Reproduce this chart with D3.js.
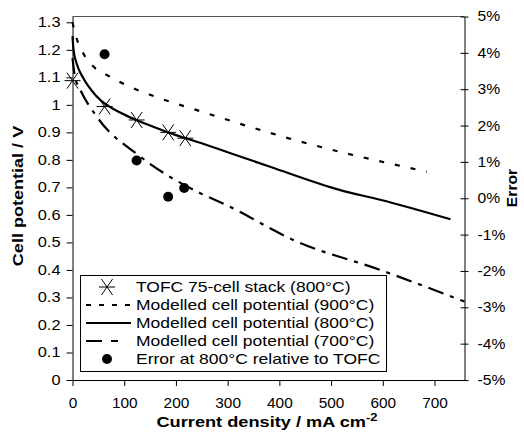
<!DOCTYPE html>
<html>
<head>
<meta charset="utf-8">
<style>
  body { margin: 0; background: #fff; font-family: Arial, 'Liberation Sans', sans-serif; }
  .axis text { font-size: 14px; font-family: Arial, 'Liberation Sans', sans-serif; fill: #000; }
  .axis path, .axis line { stroke: #000; }
</style>
</head>
<body>
<svg width="524" height="434"></svg>
<script src="https://d3js.org/d3.v7.min.js"></script>
<script>
// measured stack (800C)
var tofcCurrent = [0, 62, 124, 185, 218];
var tofcVoltage = [1.088, 0.994, 0.945, 0.900, 0.879];

// model curves: [current, voltage]
var model900 = [[0,1.30],[5,1.26],[20,1.19],[40,1.14],[70,1.105],[100,1.075],[160,1.03],[250,0.975],[434,0.87],[685,0.757]];
var model800 = [[0,1.25],[2,1.20],[8,1.15],[20,1.10],[47,1.03],[100,0.965],[150,0.925],[200,0.89],[247,0.862],[300,0.828],[382,0.775],[518,0.69],[595,0.655],[731,0.584]];
var model700 = [[0,1.17],[5,1.10],[15,1.055],[47,0.957],[131,0.812],[247,0.679],[295,0.638],[434,0.503],[595,0.40],[758,0.285]];

// error at 800C relative to TOFC (%)
var errCurrent = [62, 124, 185, 216];
var errValue = [3.96, 1.04, 0.04, 0.28];

var xTicks = [0, 100, 200, 300, 400, 500, 600, 700];
var yTicks = [0, 0.1, 0.2, 0.3, 0.4, 0.5, 0.6, 0.7, 0.8, 0.9, 1, 1.1, 1.2, 1.3];
var errTicks = [-5, -4, -3, -2, -1, 0, 1, 2, 3, 4, 5];

var legendLabels = ["TOFC 75-cell stack (800\u00B0C)", "Modelled cell potential (900\u00B0C)",
  "Modelled cell potential (800\u00B0C)", "Modelled cell potential (700\u00B0C)",
  "Error at 800\u00B0C relative to TOFC"];

var svg = d3.select("svg");
var pLeft = 72.5, pRight = 464.5, pTop = 16.5, pBottom = 380;

var x = d3.scaleLinear().domain([0, 758]).range([pLeft, pRight]);
var y = d3.scaleLinear().domain([0, 1.3211]).range([pBottom, pTop]);
var y2 = d3.scaleLinear().domain([-5, 5]).range([pBottom, pTop]);

// the original text is drawn wide; stretch glyphs along the text direction
function stretch(sel, k) {
  sel.each(function() {
    var t = d3.select(this);
    var tx = +t.attr("x") || 0;
    var tr = t.attr("transform") || "";
    t.attr("x", tx / k).attr("transform", tr + " scale(" + k + ",1)");
  });
}

// top border
svg.append("line")
  .attr("x1", pLeft).attr("x2", pRight).attr("y1", pTop).attr("y2", pTop)
  .attr("stroke", "#555").attr("stroke-width", 1);

var line = d3.line()
  .x(function(d) { return x(d[0]); })
  .y(function(d) { return y(d[1]); })
  .curve(d3.curveMonotoneX);

var styles = [
  {data: model900, dash: "5,11"},
  {data: model800, dash: null},
  {data: model700, dash: "16,7,4,7"}
];

styles.forEach(function(s) {
  svg.append("path")
    .attr("d", line(s.data))
    .attr("fill", "none")
    .attr("stroke", "#000")
    .attr("stroke-width", 2.2)
    .attr("stroke-dasharray", s.dash);
});

// excel style asterisk: an X with a horizontal bar
function asterisk(g, cx, cy) {
  var r = 8;
  g.append("path")
    .attr("d", "M" + (cx - r * 0.7) + "," + (cy - r) + "L" + (cx + r * 0.7) + "," + (cy + r) +
      "M" + (cx - r * 0.7) + "," + (cy + r) + "L" + (cx + r * 0.7) + "," + (cy - r) +
      "M" + (cx - r) + "," + cy + "H" + (cx + r))
    .attr("stroke", "#000").attr("stroke-width", 1).attr("fill", "none");
}

var marks = svg.append("g");
tofcCurrent.forEach(function(c, i) {
  asterisk(marks, x(c), y(tofcVoltage[i]));
});

svg.append("g").selectAll("circle")
  .data(errCurrent)
  .enter().append("circle")
    .attr("cx", function(d) { return x(d); })
    .attr("cy", function(d, i) { return y2(errValue[i]); })
    .attr("r", 5)
    .attr("fill", "#000");

// axes
var axX = svg.append("g").attr("class", "axis")
  .attr("transform", "translate(0," + pBottom + ")")
  .call(d3.axisBottom(x).tickValues(xTicks).tickSize(6).tickSizeOuter(0).tickPadding(12));

var axY = svg.append("g").attr("class", "axis")
  .attr("transform", "translate(" + pLeft + ",0)")
  .call(d3.axisLeft(y).tickValues(yTicks).tickSize(6).tickSizeOuter(0).tickPadding(6)
    .tickFormat(function(d) { return String(+d.toFixed(1)); }));

var ax2 = svg.append("g").attr("class", "axis")
  .attr("transform", "translate(" + pRight + ",0)")
  .call(d3.axisRight(y2).tickValues(errTicks).tickSize(4).tickSizeOuter(0).tickPadding(9)
    .tickFormat(function(d) { return d + "%"; }));
ax2.selectAll(".tick line").attr("x1", -4);

stretch(axX.selectAll(".tick text"), 1.1);
stretch(axY.selectAll(".tick text"), 1.17);
stretch(ax2.selectAll(".tick text"), 1.12);

// axis titles
var xt = svg.append("text")
  .attr("x", 267).attr("y", 427)
  .attr("text-anchor", "middle")
  .attr("font-size", 14).attr("font-weight", "bold")
  .text("Current density / mA cm");
xt.append("tspan").attr("dy", -6).attr("font-size", 10).text("-2");
stretch(xt, 1.3);

var yt = svg.append("text")
  .attr("transform", "translate(23,196) rotate(-90)")
  .attr("text-anchor", "middle")
  .attr("font-size", 14).attr("font-weight", "bold")
  .text("Cell potential / V");
stretch(yt, 1.29);

var et = svg.append("text")
  .attr("transform", "translate(517,188) rotate(-90)")
  .attr("text-anchor", "middle")
  .attr("font-size", 14).attr("font-weight", "bold")
  .text("Error");
stretch(et, 1.12);

// legend
var lg = svg.append("g");
lg.append("rect")
  .attr("x", 80.5).attr("y", 275.5).attr("width", 306).attr("height", 96)
  .attr("fill", "#fff").attr("stroke", "#000").attr("stroke-width", 1);

var rowY = [287, 305, 323, 341, 359];
asterisk(lg, 107, rowY[0]);
["5,8", null, "16,9,7,30"].forEach(function(dash, i) {
  lg.append("line")
    .attr("x1", 86).attr("x2", 131).attr("y1", rowY[i + 1]).attr("y2", rowY[i + 1])
    .attr("stroke", "#000").attr("stroke-width", 2.2)
    .attr("stroke-dasharray", dash);
});
lg.append("circle").attr("cx", 107).attr("cy", rowY[4]).attr("r", 5).attr("fill", "#000");

var lt = lg.selectAll("text.lbl")
  .data(legendLabels)
  .enter().append("text")
    .attr("class", "lbl")
    .attr("x", 136)
    .attr("y", function(d, i) { return rowY[i] + 5; })
    .attr("font-size", 14)
    .text(function(d) { return d; });
stretch(lt, 1.25);
</script>
</body>
</html>
